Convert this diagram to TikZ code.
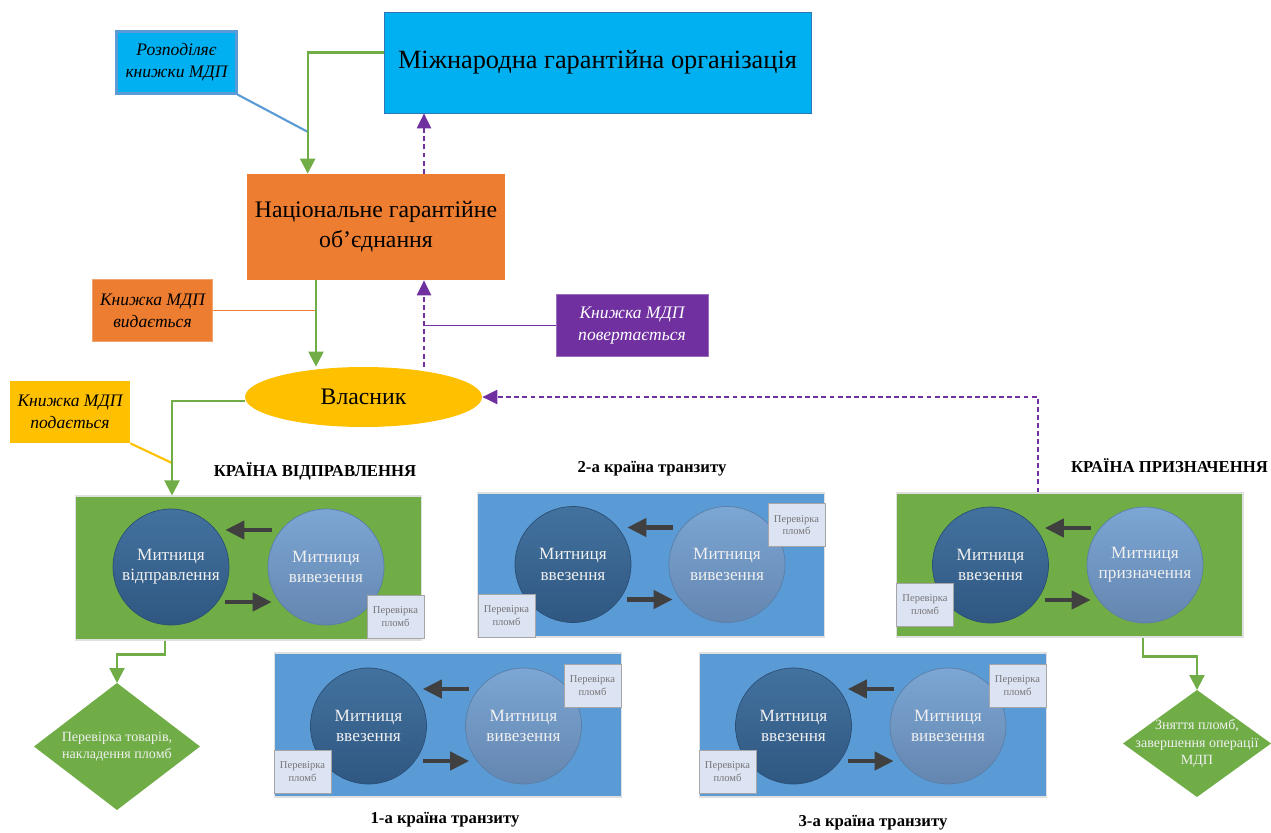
\documentclass[tikz,border=0pt]{standalone}
\usepackage{fontspec}
\setmainfont{Liberation Serif}
\usepackage{xcolor}
\usetikzlibrary{positioning,shapes.geometric,arrows.meta,calc}

\definecolor{ccyan}{HTML}{00B0F0}
\definecolor{cigoline}{HTML}{2E75B6}
\definecolor{corange}{HTML}{ED7D31}
\definecolor{cgold}{HTML}{FFC000}
\definecolor{cpurple}{HTML}{7030A0}
\definecolor{cgreen}{HTML}{70AD47}
\definecolor{cblue}{HTML}{5B9BD5}
\definecolor{cdarktop}{HTML}{43729F}
\definecolor{cdarkbot}{HTML}{2F5781}
\definecolor{cdarkline}{HTML}{2A4F75}
\definecolor{clighttop}{HTML}{7CA6D4}
\definecolor{clightbot}{HTML}{6486B0}
\definecolor{clightline}{HTML}{5A7FA8}
\definecolor{sealfill}{HTML}{DCE3F3}
\definecolor{sealline}{HTML}{A6A6A6}
\definecolor{sealtext}{HTML}{767676}
\definecolor{arrowgray}{HTML}{404040}

\begin{document}
\begin{tikzpicture}[x=0.02cm, y=-0.02cm,
  note/.style={draw, align=center, inner sep=2pt, minimum width=2.4cm, minimum height=1.24cm,
    font=\fontsize{10}{12.5}\selectfont\itshape},
  country/.style={draw=black!12, line width=0.6pt, minimum width=6.94cm, minimum height=2.88cm},
  office/.style={circle, minimum size=2.32cm, inner sep=0pt, align=center, text=white!94!black,
    font=\fontsize{9.8}{11.5}\selectfont},
  inoffice/.style={office, top color=cdarktop, bottom color=cdarkbot, draw=cdarkline},
  outoffice/.style={office, top color=clighttop, bottom color=clightbot, draw=clightline},
  seal/.style={draw=sealline, fill=sealfill, text=sealtext, align=center, inner sep=1pt,
    minimum width=1.14cm, minimum height=0.86cm, font=\fontsize{6}{7.2}\selectfont},
  move/.style={-{Triangle[length=0.38cm, width=0.36cm]}, line width=2.4pt, draw=arrowgray},
  title/.style={font=\fontsize{9.5}{11}\selectfont\bfseries},
  flow/.style={-{Triangle[length=0.3cm, width=0.3cm]}, line width=1.2pt, draw=cgreen},
  back/.style={-{Triangle[length=0.3cm, width=0.28cm]}, line width=1.2pt, draw=cpurple,
    dash pattern=on 2.8pt off 1.8pt},
  check/.style={diamond, fill=cgreen, inner sep=0pt, outer sep=0pt},
  checktext/.style={align=center, text=white!94!black, font=\fontsize{8}{9.6}\selectfont}
]
\useasboundingbox (0,0) rectangle (1271,832);

% Guarantee chain
\node[draw=cigoline, fill=ccyan, minimum width=8.54cm, minimum height=2.02cm,
  font=\fontsize{15}{18}\selectfont] (igo) at (597.5,62.5) {Міжнародна гарантійна організація};
\node[fill=corange, align=center, minimum width=5.16cm, minimum height=2.12cm,
  font=\fontsize{13.5}{17}\selectfont] (nga) at (376,227) {Національне гарантійне\\об’єднання};
\node[ellipse, fill=cgold, minimum width=4.74cm, minimum height=1.2cm,
  font=\fontsize{13.5}{16}\selectfont] (holder) at (363.5,397) {Власник};

% Callouts
\node[note, draw=cblue, line width=1.2pt, fill=ccyan] (distnote) at (176.5,62.5) {Розподіляє\\книжки МДП};
\node[note, draw=corange!70!white, fill=corange] (issuenote) at (152.5,310.5) {Книжка МДП\\видається};
\node[note, draw=cpurple!70!white, fill=cpurple, text=white, minimum width=3.04cm] (returnnote) at (632,325.5) {Книжка МДП\\повертається};
\node[note, draw=none, fill=cgold] (submitnote) at (70,412) {Книжка МДП\\подається};
\coordinate (disttip) at (308,132);
\coordinate (submittip) at (172,463);

% Country of departure
\node[title] (deptitle) at (315,471) {КРАЇНА ВІДПРАВЛЕННЯ};
\node[country, fill=cgreen] (departure) at (248.5,568) {};
\node[inoffice] (dep1) at (171,567) {Митниця\\відправлення};
\node[outoffice] (dep2) at (326,567) {Митниця\\вивезення};
\node[seal] (depseal) at (395.5,616.5) {Перевірка\\пломб};

% 2nd transit country
\node[title] (tr2title) at (652,469) {2-а країна транзиту};
\node[country, fill=cblue] (transit2) at (651,565) {};
\node[inoffice] (tr2a) at (573,564.5) {Митниця\\ввезення};
\node[outoffice] (tr2b) at (727,564.5) {Митниця\\вивезення};
\node[seal] (tr2sealb) at (796.5,525) {Перевірка\\пломб};
\node[seal] (tr2seala) at (506.5,615.5) {Перевірка\\пломб};

% Country of destination
\node[title, anchor=east] (desttitle) at (1274,466) {КРАЇНА ПРИЗНАЧЕННЯ};
\node[country, fill=cgreen] (destination) at (1069.5,565) {};
\node[inoffice] (dest1) at (990.5,565) {Митниця\\ввезення};
\node[outoffice] (dest2) at (1145,565) {Митниця\\призначення};
\node[seal] (destseal) at (925,604.5) {Перевірка\\пломб};

% 1st transit country
\node[title] (tr1title) at (445,820) {1-а країна транзиту};
\node[country, fill=cblue] (transit1) at (448,725) {};
\node[inoffice] (tr1a) at (368.5,726) {Митниця\\ввезення};
\node[outoffice] (tr1b) at (523.5,726) {Митниця\\вивезення};
\node[seal] (tr1sealb) at (592.5,685.5) {Перевірка\\пломб};
\node[seal] (tr1seala) at (302.5,771.5) {Перевірка\\пломб};

% 3rd transit country
\node[title] (tr3title) at (873,823) {3-а країна транзиту};
\node[country, fill=cblue] (transit3) at (873,725) {};
\node[inoffice] (tr3a) at (793.5,726) {Митниця\\ввезення};
\node[outoffice] (tr3b) at (948,726) {Митниця\\вивезення};
\node[seal] (tr3sealb) at (1017.5,685.5) {Перевірка\\пломб};
\node[seal] (tr3seala) at (727.5,771.5) {Перевірка\\пломб};

% Checks at both ends
\node[check, minimum width=3.32cm, minimum height=2.54cm] (check1) at (117,746.5) {};
\node[checktext] (check1text) at (check1) {Перевірка товарів,\\накладення пломб};
\node[check, minimum width=2.96cm, minimum height=2.14cm] (check2) at (1197,743.5) {};
\node[checktext, font=\fontsize{8}{10}\selectfont] (check2text) at (check2) {Зняття пломб,\\завершення операції\\МДП};

% Arrows between the offices
\foreach \a/\b in {dep1/dep2, tr2a/tr2b, dest1/dest2, tr1a/tr1b, tr3a/tr3b} {
  \draw[move] ($(\b.west)+(4,-37)$) -- ($(\a.east)+(-4,-37)$);
  \draw[move] ($(\a.east)+(-4,35)$) -- ($(\b.west)+(4,35)$);
}

% Callout lines
\draw[cblue, line width=1.2pt] (distnote.south east) -- (disttip);
\draw[corange, line width=1pt] (issuenote.east) -- (issuenote.east -| 316,0);
\draw[cpurple, line width=1pt] (returnnote.west) -- (returnnote.west -| 424,0);
\draw[cgold, line width=1.2pt] (submitnote.south east) -- (submittip);

% Book goes out
\draw[flow] ($(igo.west)+(0,-10)$) -| ($(nga.north west)+(61,0)$);
\draw[flow] (nga.south -| 316,0) -- (holder.north -| 316,0);
\draw[flow] ($(holder.west)+(0,4)$) -| (departure.north -| 172,0);
\draw[flow] (departure.south -| 165,0) -- ++(0,14) -| (check1.north);
\draw[flow] (destination.south -| 1143,0) -- ++(0,19) -| (check2.north);

% Book comes back
\draw[back] (destination.north -| 1038,0) |- (holder.east);
\draw[back] (holder.north -| 424,0) -- (nga.south -| 424,0);
\draw[back] (nga.north -| 424,0) -- (igo.south -| 424,0);

\end{tikzpicture}
\end{document}
